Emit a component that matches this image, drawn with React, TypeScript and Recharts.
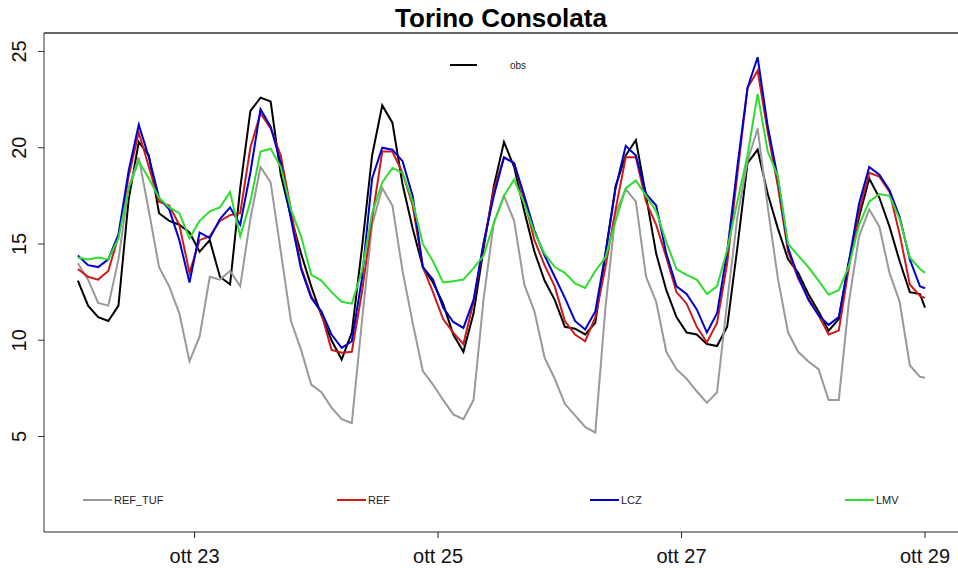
import { LineChart, Line, XAxis, YAxis, ReferenceLine } from 'recharts'

// hours since ott 22 00:00, sampled every 2 h
const hours = Array.from({ length: 84 }, (_, i) => 1 + 2 * i).concat(168)

const obs = [
  13.1, 11.8, 11.2, 11.0, 11.8, 17.3, 20.3, 19.6, 16.6, 16.2,
  16.0, 15.6, 14.6, 15.2, 13.3, 12.9, 17.9, 21.9, 22.6, 22.4,
  18.6, 16.4, 14.5, 12.8, 11.3, 10.0, 9.0, 10.4, 14.8, 19.6,
  22.2, 21.3, 18.1, 15.8, 13.8, 13.0, 11.9, 10.3, 9.4, 11.4,
  14.8, 18.0, 20.3, 19.0, 16.7, 14.6, 13.1, 12.1, 10.7, 10.6,
  10.3, 10.9, 14.5, 18.0, 19.6, 20.4, 17.5, 14.5, 12.6, 11.2,
  10.4, 10.3, 9.8, 9.7, 10.7, 14.8, 19.2, 19.9, 17.6, 15.8,
  14.2, 13.5, 12.4, 11.5, 10.5, 11.1, 14.1, 16.4, 18.4, 17.4,
  15.9, 14.1, 12.5, 12.4, 11.7,
]

const refTuf = [
  14.0, 13.15, 11.94, 11.8, 14.2, 17.9, 19.5, 16.7, 13.8, 12.8,
  11.4, 8.9, 10.2, 13.3, 13.15, 13.6, 12.8, 16.3, 19.0, 18.2,
  14.6, 11.0, 9.5, 7.7, 7.3, 6.5, 5.9, 5.7, 11.0, 16.0,
  17.9, 17.0, 13.6, 10.9, 8.4, 7.7, 6.9, 6.15, 5.9, 6.9,
  12.2, 16.1, 17.5, 16.2, 12.9, 11.5, 9.1, 8.0, 6.7, 6.1,
  5.5, 5.2, 11.7, 16.6, 17.85, 17.2, 13.3, 12.0, 9.4, 8.5,
  8.0, 7.35, 6.75, 7.3, 12.0, 16.4, 19.3, 21.0, 16.9, 13.2,
  10.4, 9.4, 8.9, 8.5, 6.9, 6.9, 12.0, 15.4, 16.8, 15.9,
  13.5, 12.0, 8.7, 8.1, 8.05,
]

const ref = [
  13.7, 13.3, 13.15, 13.6, 15.4, 18.5, 20.8, 19.0, 17.2, 17.0,
  16.0, 13.5, 15.2, 15.4, 16.2, 16.5, 16.6, 20.0, 21.8, 21.0,
  19.6, 16.8, 13.8, 12.3, 11.4, 9.5, 9.35, 9.4, 12.5, 16.3,
  19.8, 19.8, 18.7, 17.0, 13.8, 12.5, 11.1, 10.4, 9.8, 12.0,
  15.0, 17.8, 19.5, 19.2, 17.3, 15.2, 13.9, 12.8, 11.0, 10.3,
  9.95, 11.2, 13.8, 16.8, 19.5, 19.5, 17.2, 16.0, 14.3, 12.5,
  11.9, 10.7, 9.9, 10.9, 14.0, 18.6, 23.1, 24.0, 20.8, 18.0,
  14.6, 13.2, 12.2, 11.3, 10.3, 10.5, 13.8, 16.7, 18.7, 18.5,
  17.7, 15.5, 12.9, 12.3, 12.2,
]

const lcz = [
  14.4, 13.9, 13.8, 14.2, 15.5, 18.8, 21.2, 19.5, 17.4, 16.8,
  15.2, 13.0, 15.6, 15.3, 16.3, 16.9, 16.0, 18.7, 22.0, 21.1,
  19.2, 16.3, 13.7, 12.2, 11.5, 10.3, 9.6, 9.95, 13.2, 18.4,
  20.0, 19.9, 19.3, 17.5, 13.8, 13.15, 11.7, 10.95, 10.64, 12.1,
  15.1, 17.5, 19.5, 19.2, 17.5, 15.7, 14.4, 13.3, 12.2, 11.0,
  10.56, 11.5, 14.5, 17.9, 20.1, 19.6, 17.6, 17.0, 14.5, 12.8,
  12.4, 11.6, 10.4, 11.4, 14.6, 19.0, 23.1, 24.7, 21.1, 18.4,
  14.8, 13.3, 12.1, 11.3, 10.8, 11.2, 14.1, 17.1, 19.0, 18.6,
  17.8, 16.4, 14.2, 12.8, 12.7,
]

const lmv = [
  14.3, 14.2, 14.3, 14.2, 15.3, 17.9, 19.3, 18.4, 17.4, 16.9,
  16.6, 15.3, 16.2, 16.7, 16.9, 17.7, 15.4, 17.2, 19.8, 19.95,
  19.0, 16.8, 15.4, 13.4, 13.1, 12.5, 12.0, 11.9, 13.6, 16.6,
  18.2, 18.95, 18.7, 17.2, 15.0, 14.1, 13.0, 13.07, 13.15, 13.75,
  14.4, 16.1, 17.5, 18.35, 17.1, 15.6, 14.5, 13.8, 13.5, 12.95,
  12.72, 13.6, 14.3, 16.2, 17.9, 18.3, 17.5, 16.7, 15.1, 13.7,
  13.4, 13.15, 12.4, 12.8, 14.7, 17.2, 19.6, 22.8, 19.8, 18.5,
  15.0, 14.4, 13.8, 13.1, 12.37, 12.6, 13.85, 16.0, 17.2, 17.6,
  17.5, 16.3, 14.3, 13.7, 13.5,
]

const xTicks = [24, 72, 120, 168]
const xTickLabels = ['ott 23', 'ott 25', 'ott 27', 'ott 29']
const yTicks = [5, 10, 15, 20, 25]

const FONT = '"Liberation Sans", Arial, sans-serif'

const data = hours.map((t, i) => ({
  t,
  obs: obs[i],
  refTuf: refTuf[i],
  ref: ref[i],
  lcz: lcz[i],
  lmv: lmv[i],
}))

function XTick({ x, payload }: any) {
  const idx = xTicks.indexOf(payload.value)
  return (
    <text x={x} y={563} textAnchor="middle" fontSize={20} fill="#111" fontFamily={FONT}>
      {xTickLabels[idx]}
    </text>
  )
}

function YTick({ y, payload }: any) {
  return (
    <text x={26} y={y} transform={`rotate(-90 26 ${y})`} textAnchor="middle" fontSize={20} fill="#111" fontFamily={FONT}>
      {payload.value}
    </text>
  )
}

const legendItems = [
  { label: 'REF_TUF', color: '#999999', x: 83 },
  { label: 'REF', color: '#cd1a1a', x: 337 },
  { label: 'LCZ', color: '#0000cd', x: 590 },
  { label: 'LMV', color: '#2fdc2f', x: 845 },
]

export default function App() {
  return (
    <div style={{ position: 'absolute', left: 0, top: 0, width: 958, height: 568, background: '#fff' }}>
      <LineChart width={958} height={568} data={data} margin={{ top: 33, right: 0, left: 0, bottom: 0 }}>
        <XAxis
          dataKey="t"
          type="number"
          domain={[-5.68, 174.5]}
          ticks={xTicks}
          allowDataOverflow
          height={36}
          tickSize={6}
          tick={<XTick />}
          stroke="#222"
        />
        <YAxis
          type="number"
          domain={[0.04, 25.96]}
          ticks={yTicks}
          allowDataOverflow
          width={44}
          tickSize={6}
          tick={<YTick />}
          stroke="#333"
        />
        <ReferenceLine y={25.96} stroke="#333" strokeWidth={1.5} />
        <Line type="linear" dataKey="obs" stroke="#000000" strokeWidth={2} dot={false} isAnimationActive={false} />
        <Line type="linear" dataKey="refTuf" stroke="#999999" strokeWidth={2} dot={false} isAnimationActive={false} />
        <Line type="linear" dataKey="ref" stroke="#cd1a1a" strokeWidth={2} dot={false} isAnimationActive={false} />
        <Line type="linear" dataKey="lcz" stroke="#0000cd" strokeWidth={2} dot={false} isAnimationActive={false} />
        <Line type="linear" dataKey="lmv" stroke="#2fdc2f" strokeWidth={2} dot={false} isAnimationActive={false} />
      </LineChart>
      <svg width={958} height={568} style={{ position: 'absolute', left: 0, top: 0, pointerEvents: 'none' }}>
        <text x={501} y={27} textAnchor="middle" fontSize={26} fontWeight="bold" fill="#000" fontFamily={FONT}>
          Torino Consolata
        </text>
        <line x1={450} x2={477} y1={65} y2={65} stroke="#000" strokeWidth={2} />
        <text x={510} y={69} fontSize={10} fill="#222" fontFamily={FONT}>obs</text>
        {legendItems.map((it) => (
          <g key={it.label}>
            <line x1={it.x} x2={it.x + 29} y1={500} y2={500} stroke={it.color} strokeWidth={2} />
            <text x={it.x + 31} y={504} fontSize={11} fill="#222" fontFamily={FONT}>{it.label}</text>
          </g>
        ))}
      </svg>
    </div>
  )
}
